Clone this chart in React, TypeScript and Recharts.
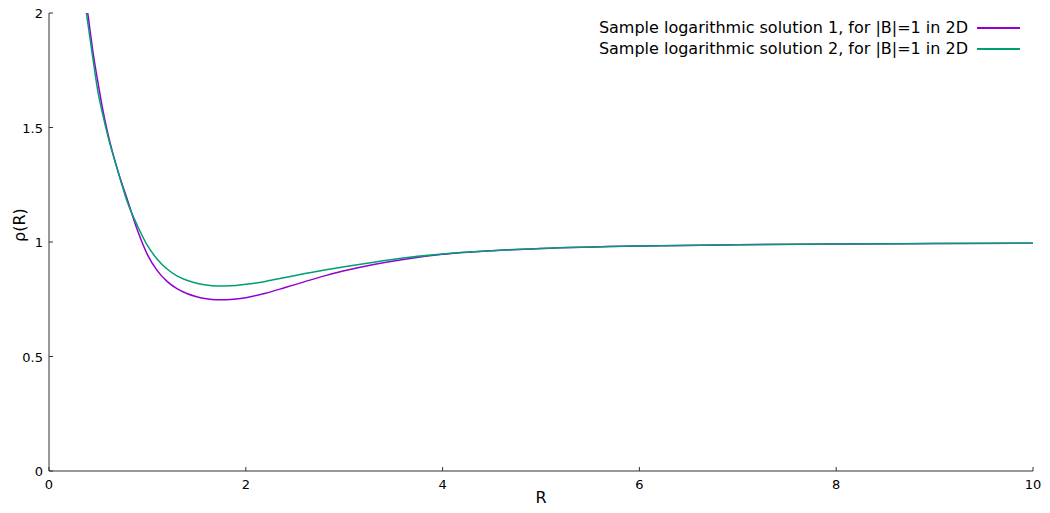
import React from "react";
import { LineChart, Line, XAxis, YAxis } from "recharts";

// R grid and two sample solutions
const rValues = [0.36, 0.38, 0.4, 0.45, 0.5, 0.55, 0.6, 0.7, 0.8, 0.9, 1.0, 1.1, 1.2, 1.3, 1.4, 1.5, 1.6, 1.7, 1.8, 1.9, 2.0, 2.2, 2.4, 2.6, 2.8, 3.0, 3.3, 3.6, 4.0, 4.5, 5.0, 6.0, 7.0, 8.0, 9.0, 10.0];
const rho1 = [2.1, 2.04, 1.98, 1.82, 1.69, 1.57, 1.47, 1.31, 1.18, 1.05, 0.945, 0.875, 0.828, 0.796, 0.775, 0.761, 0.752, 0.748, 0.748, 0.751, 0.757, 0.776, 0.801, 0.827, 0.852, 0.874, 0.902, 0.924, 0.946, 0.962, 0.972, 0.983, 0.988, 0.991, 0.993, 0.995];
const rho2 = [2.06, 2.0, 1.94, 1.79, 1.65, 1.55, 1.46, 1.31, 1.17, 1.07, 0.985, 0.925, 0.882, 0.852, 0.833, 0.82, 0.812, 0.808, 0.808, 0.81, 0.815, 0.828, 0.845, 0.862, 0.878, 0.892, 0.912, 0.93, 0.948, 0.962, 0.972, 0.983, 0.988, 0.991, 0.993, 0.995];

const xTicks = [0, 2, 4, 6, 8, 10];
const yTicks = [0, 0.5, 1, 1.5, 2];

const series = [
  { key: "rho1", name: "Sample logarithmic solution 1, for |B|=1 in 2D", color: "#9400d3" },
  { key: "rho2", name: "Sample logarithmic solution 2, for |B|=1 in 2D", color: "#009e73" },
];

const data = rValues.map((r, i) => ({ r, rho1: rho1[i], rho2: rho2[i] }));

const FONT = "'DejaVu Sans', sans-serif";
const MARGIN = 7;
const TICK_LEN = 4;

const BottomTick = (props: any) => {
  const { x, y, payload } = props;
  const ay = y - MARGIN;
  return (
    <g>
      <line x1={x} y1={ay} x2={x} y2={ay - TICK_LEN} stroke="#333" />
      <text x={x} y={y} dy={11} textAnchor="middle" fontSize={13} fontFamily={FONT} fill="#000">
        {payload.value}
      </text>
    </g>
  );
};

const LeftTick = (props: any) => {
  const { x, y, payload } = props;
  const ax = x + MARGIN;
  return (
    <g>
      <line x1={ax} y1={y} x2={ax + TICK_LEN} y2={y} stroke="#333" />
      <text x={x + 1} y={y} dy={5} textAnchor="end" fontSize={13} fontFamily={FONT} fill="#000">
        {payload.value}
      </text>
    </g>
  );
};

const TopTick = (props: any) => {
  const { x, y } = props;
  return <line x1={x} y1={y} x2={x} y2={y + TICK_LEN} stroke="#333" />;
};

const RightTick = (props: any) => {
  const { x, y } = props;
  return <line x1={x} y1={y} x2={x - TICK_LEN} y2={y} stroke="#333" />;
};

export default function App() {
  return (
    <div style={{ position: "relative", width: 1050, height: 513 }}>
      <style>{`body { margin: 0; }`}</style>
      <LineChart width={1050} height={513} data={data} margin={{ top: 13, right: 17, bottom: 12, left: 9 }}>
        <XAxis
          dataKey="r"
          type="number"
          domain={[0, 10]}
          ticks={xTicks}
          tickSize={0}
          tickMargin={MARGIN}
          tickLine={false}
          tick={<BottomTick />}
          axisLine={{ stroke: "#333" }}
          height={30}
          label={{ value: "R", position: "insideBottom", offset: -2, fontSize: 16, fontFamily: FONT, fill: "#000" }}
        />
        <XAxis
          xAxisId="top"
          orientation="top"
          dataKey="r"
          type="number"
          domain={[0, 10]}
          ticks={xTicks}
          tickSize={0}
          tickMargin={0}
          tickLine={false}
          tick={<TopTick />}
          axisLine={{ stroke: "#333" }}
          height={0}
        />
        <YAxis
          type="number"
          domain={[0, 2]}
          ticks={yTicks}
          allowDataOverflow
          tickSize={0}
          tickMargin={MARGIN}
          tickLine={false}
          tick={<LeftTick />}
          axisLine={{ stroke: "#333" }}
          width={40}
          label={{ value: "ρ(R)", angle: -90, position: "insideLeft", offset: 10, fontSize: 16, fontFamily: FONT, fill: "#000" }}
        />
        <YAxis
          yAxisId="right"
          orientation="right"
          type="number"
          domain={[0, 2]}
          ticks={yTicks}
          tickSize={0}
          tickMargin={0}
          tickLine={false}
          tick={<RightTick />}
          axisLine={{ stroke: "#333" }}
          width={0}
        />
        {series.map((s) => (
          <Line
            key={s.key}
            dataKey={s.key}
            type="monotone"
            stroke={s.color}
            strokeWidth={1.5}
            dot={false}
            isAnimationActive={false}
          />
        ))}
      </LineChart>
      <div style={{ position: "absolute", top: 17, right: 30, fontFamily: FONT, fontSize: 16, color: "#000" }}>
        {series.map((s) => (
          <div key={s.key} style={{ display: "flex", alignItems: "center", justifyContent: "flex-end", height: 21 }}>
            <span>{s.name}</span>
            <span style={{ display: "inline-block", width: 43, height: 2, background: s.color, marginLeft: 9 }} />
          </div>
        ))}
      </div>
    </div>
  );
}
